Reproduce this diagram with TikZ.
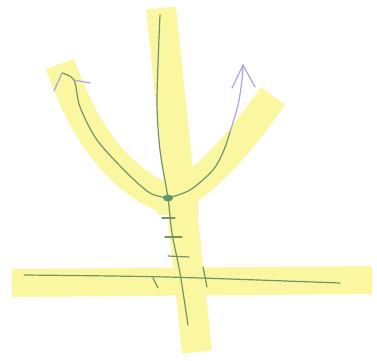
\documentclass[tikz,border=0pt]{standalone}
\begin{document}
\begin{tikzpicture}[x=1pt,y=-1pt,
  hl/.style={draw=hlyellow,line cap=butt,line join=round},
  ink/.style={draw=inkgreen,line width=1.2pt,line cap=round,line join=round},
  pink/.style={draw=inkpurple,line width=1.2pt,line cap=round,line join=round}]
\definecolor{hlyellow}{RGB}{250,247,160}
\definecolor{inkgreen}{RGB}{112,150,104}
\definecolor{inkpurple}{RGB}{170,165,228}
\definecolor{dotgreen}{RGB}{95,150,110}
\useasboundingbox (0,0) rectangle (377,360);
\fill[white] (0,0) rectangle (377,360);
% highlighter bands
\draw[hl,line width=30pt] (161,8) -- (180,190) -- (197,352);
\draw[hl,line width=28pt] (12,283) -- (372,280);
\draw[hl,line width=30pt] (60,64) .. controls (80,120) and (110,175) .. (165,198);
\draw[hl,line width=30pt] (273,96) .. controls (245,135) and (215,175) .. (172,200);
\fill[hlyellow] (158,185) rectangle (198,215);
% coordinates
\coordinate (V) at (168,198);
\coordinate (yTop) at (160,15);
\coordinate (yBot) at (188,325);
\coordinate (xL) at (24,275);
\coordinate (xR) at (340,283);
\coordinate (Ltip) at (62,73);
\coordinate (Lj) at (74,80);
\coordinate (LarmA) at (54,91);
\coordinate (LarmB) at (90,83);
\coordinate (Rtip) at (243,65);
\coordinate (Rj) at (230,132);
\coordinate (RarmA) at (232,88);
\coordinate (RarmB) at (255,87);
% axes
\draw[ink] plot[smooth] coordinates {(yTop) (157,100) (160,150) (V) (172,233) (180,273) (yBot)};
\draw[ink] plot[smooth] coordinates {(xL) (167,277) (xR)};
% axis ticks
\draw[ink] (153,278) -- (158,288);
\draw[ink] (203,267) -- (207,287);
\draw[ink] (162,218) -- (175,218);
\draw[ink] (165,237) -- (182,237);
\draw[ink] (168,256) -- (189,257);
% parabola left
\draw[ink] plot[smooth] coordinates {(V) (150,193) (127,173) (97,140) (80,107) (Lj) (Ltip)};
\draw[pink] (Ltip) -- (LarmA);
\draw[pink] (Lj) -- (LarmB);
% parabola right
\draw[ink] plot[smooth] coordinates {(V) (190,190) (213,170) (224,150) (Rj)};
\draw[pink] plot[smooth] coordinates {(Rj) (238,105) (242,80) (Rtip)};
\draw[pink] (RarmA) -- (Rtip) -- (RarmB);
% vertex
\fill[dotgreen] (V) ellipse (5pt and 3.5pt);
\end{tikzpicture}
\end{document}
